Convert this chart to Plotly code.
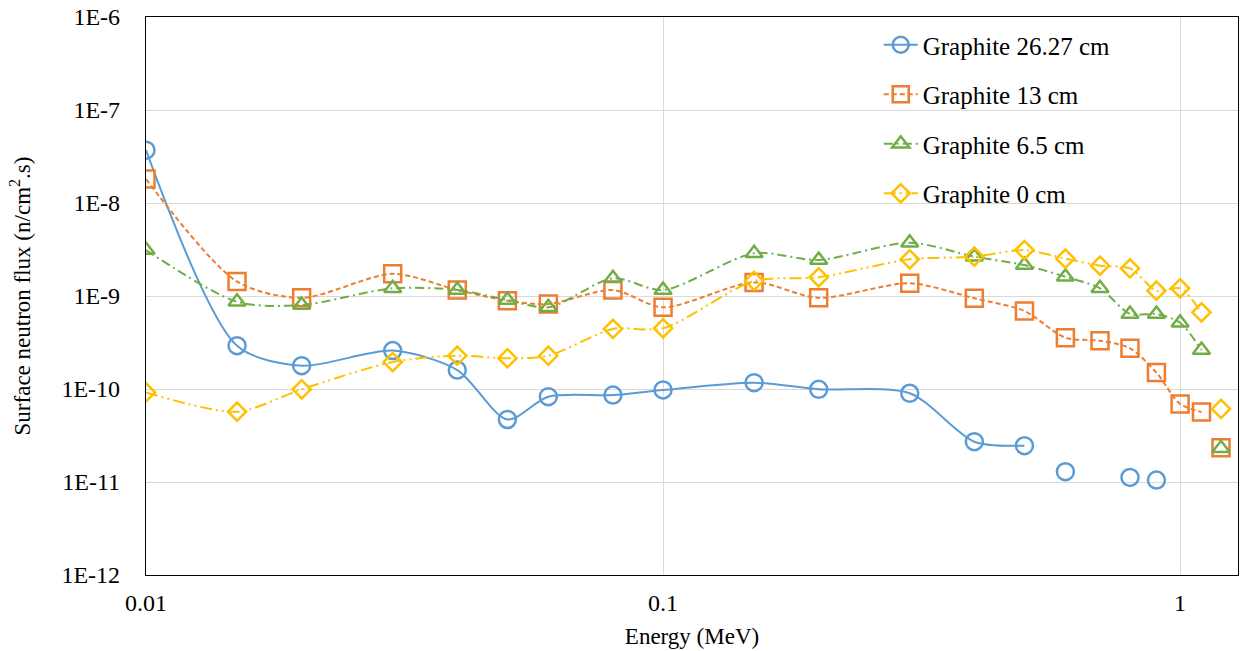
import plotly.graph_objects as go

energy = [0.01, 0.015, 0.02, 0.03, 0.04, 0.05, 0.06, 0.08, 0.1, 0.15, 0.2,
          0.3, 0.4, 0.5, 0.6, 0.7, 0.8, 0.9, 1.0, 1.1, 1.2]

g26 = [3.7e-8, 2.92e-10, 1.78e-10, 2.59e-10, 1.6e-10, 4.7e-11, 8.26e-11, 8.6e-11,
       9.76e-11, 1.17e-10, 9.93e-11, 9.0e-11, 2.71e-11, 2.46e-11,
       1.29e-11, None, 1.12e-11, 1.05e-11, None, None, None]
g13 = [1.81e-8, 1.43e-9, 9.55e-10, 1.73e-9, 1.16e-9, 8.9e-10, 8.2e-10, 1.16e-9,
       7.55e-10, 1.40e-9, 9.55e-10, 1.37e-9, 9.45e-10, 6.9e-10, 3.56e-10,
       3.31e-10, 2.74e-10, 1.5e-10, 6.9e-11, 5.66e-11, 2.34e-11]
g65 = [3.12e-9, 8.68e-10, 8.0e-10, 1.21e-9, 1.16e-9, 9.06e-10, 7.55e-10, 1.55e-9,
       1.16e-9, 2.88e-9, 2.44e-9, 3.74e-9, 2.65e-9, 2.15e-9, 1.61e-9, 1.21e-9,
       6.4e-10, 6.4e-10, 5.16e-10, 2.62e-10, 2.3e-11]
g0 = [9.2e-11, 5.7e-11, 9.93e-11, 1.95e-10, 2.28e-10, 2.14e-10, 2.28e-10, 4.42e-10,
      4.49e-10, 1.45e-9, 1.59e-9, 2.48e-9, 2.65e-9, 3.12e-9, 2.52e-9, 2.12e-9,
      1.98e-9, 1.14e-9, 1.21e-9, 6.68e-10, 6.1e-11]

names = ["Graphite 26.27 cm", "Graphite 13 cm", "Graphite 6.5 cm", "Graphite 0 cm"]
# number of leading points joined by the smoothed line
joined = [14, 20, 20, 20]

y_ticks = [1e-12, 1e-11, 1e-10, 1e-9, 1e-8, 1e-7, 1e-6]
y_text = ["1E-12", "1E-11", "1E-10", "1E-9", "1E-8", "1E-7", "1E-6"]
x_ticks = [0.01, 0.1, 1]
x_text = ["0.01", "0.1", "1"]

colors = ["#5B9BD5", "#ED7D31", "#70AD47", "#FFC000"]
symbols = ["circle-open", "square-open", "triangle-up-open", "diamond-open"]
sizes = [17, 17, 15, 14]
dashes = ["solid", "5px,3px", "9px,4px,2px,4px", "12px,4px,2px,4px,2px,4px"]

fig = go.Figure()
for i, ys in enumerate([g26, g13, g65, g0]):
    n = joined[i]
    fig.add_trace(go.Scatter(
        x=energy[:n], y=ys[:n], name=names[i], mode="lines+markers",
        line=dict(color=colors[i], width=2, dash=dashes[i], shape="spline", smoothing=0.8),
        marker=dict(symbol=symbols[i], size=sizes[i], color=colors[i],
                    line=dict(width=2.5, color=colors[i])),
        legendgroup=names[i], connectgaps=False))
    fig.add_trace(go.Scatter(
        x=energy[n:], y=ys[n:], name=names[i], mode="markers", showlegend=False,
        marker=dict(symbol=symbols[i], size=sizes[i], color=colors[i],
                    line=dict(width=2.5, color=colors[i])),
        legendgroup=names[i]))

font = "Liberation Serif"
fig.update_layout(
    width=1243, height=651,
    margin=dict(l=146, r=5, t=17, b=76),
    paper_bgcolor="white", plot_bgcolor="white",
    font=dict(family=font, color="#000000", size=23),
    showlegend=True,
    legend=dict(x=0.671, y=0.991, xanchor="left", yanchor="top",
                font=dict(family=font, size=25, color="#000000"),
                bgcolor="rgba(0,0,0,0)", tracegroupgap=14, itemwidth=34),
    xaxis=dict(type="log", range=[-2, 0.112], tickvals=x_ticks, ticktext=x_text,
               showgrid=True, gridcolor="#D9D9D9", gridwidth=1, automargin=False,
               showline=True, linecolor="#000000", linewidth=1.2, mirror=True,
               ticks="", ticklabelstandoff=6, zeroline=False,
               tickfont=dict(family=font, size=24),
               title=dict(text="Energy (MeV)", font=dict(family=font, size=23), standoff=12)),
    yaxis=dict(type="log", range=[-12, -6], tickvals=y_ticks, ticktext=y_text,
               showgrid=True, gridcolor="#D9D9D9", gridwidth=1, automargin=False,
               showline=True, linecolor="#000000", linewidth=1.2, mirror=True,
               ticks="", ticklabelstandoff=20, zeroline=False,
               tickfont=dict(family=font, size=24),
               title=dict(text="Surface neutron flux (n/cm<sup>2</sup>.s)",
                          font=dict(family=font, size=23), standoff=24)),
)

fig.write_html("out.html", config={"displayModeBar": False},
               post_script="document.body.style.margin='0';document.body.style.overflow='hidden';")
